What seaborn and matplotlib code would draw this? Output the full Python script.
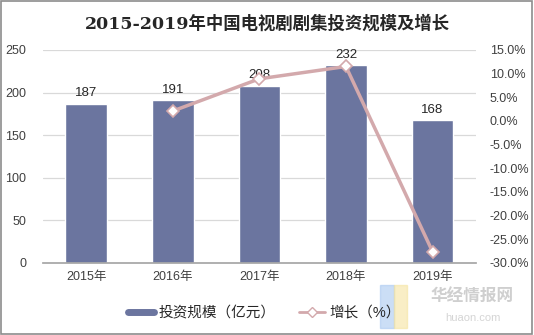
import matplotlib
matplotlib.use("Agg")
import matplotlib.pyplot as plt
import seaborn as sns
import pandas as pd
import numpy as np
from matplotlib.lines import Line2D
from matplotlib.patches import Rectangle

years = ["2015年", "2016年", "2017年", "2018年", "2019年"]
invest = [187, 191, 208, 232, 168]
growth = [np.nan, 2.1, 8.9, 11.5, -27.6]
left_ticks = [0, 50, 100, 150, 200, 250]
right_ticks = [-30, -25, -20, -15, -10, -5, 0, 5, 10, 15]

sns.set_theme(style="white")
plt.rcParams['font.family'] = ['Liberation Sans', 'Noto Sans CJK SC', 'DejaVu Sans']

BAR = "#6B759F"
LINE = "#D3A9AC"

df = pd.DataFrame({"year": years, "invest": invest, "growth": growth})
df["pos"] = np.arange(len(years))

fig = plt.figure(figsize=(5.34, 3.35), dpi=100)
ax = fig.add_axes([0.0805, 0.215, 0.8105, 0.636])

sns.barplot(data=df, x="year", y="invest", color=BAR, width=0.48, ax=ax,
            saturation=1, zorder=2)
ax.set_ylim(0, 250)
ax.set_yticks(left_ticks)
ax.set_xlim(-0.5, 4.5)
ax.yaxis.grid(True, color="#D9D9D9", linewidth=0.9, zorder=0)
ax.set_axisbelow(True)
for s in ["left", "right", "top"]:
    ax.spines[s].set_visible(False)
ax.spines["bottom"].set_color("#A6A6A6")
ax.set_xlabel("")
ax.set_ylabel("")
ax.tick_params(axis="both", length=0, labelsize=9, colors="#404040")
ax.tick_params(axis="x", pad=6)
ax.tick_params(axis="y", pad=12)

for i, v in enumerate(invest):
    ax.text(i, v + 5, str(v), ha="center", va="bottom", fontsize=9.5, color="#262626")

ax2 = ax.twinx()
gd = df.dropna()
sns.lineplot(data=gd, x="pos", y="growth", ax=ax2, color=LINE, linewidth=2.5,
             marker="D", markersize=6, markerfacecolor="white",
             markeredgecolor=LINE, markeredgewidth=1.2)
ax2.set_ylim(-30, 15)
ax2.set_yticks(right_ticks)
ax2.set_yticklabels([f"{t:.1f}%" for t in right_ticks])
ax2.set_xlim(-0.5, 4.5)
ax2.set_xlabel("")
ax2.set_ylabel("")
for s in ["left", "right", "top", "bottom"]:
    ax2.spines[s].set_visible(False)
ax2.tick_params(axis="y", length=0, labelsize=9, colors="#404040", pad=10)

fig.text(0.5, 0.93, "2015-2019年中国电视剧剧集投资规模及增长", ha="center", va="center",
         fontsize=12.5, fontweight="bold", color="#262626",
         family=['DejaVu Serif', 'Noto Sans CJK SC'])

handles = [Line2D([0], [0], color=BAR, linewidth=5),
           Line2D([0], [0], color=LINE, linewidth=2, marker="D", markersize=5,
                  markerfacecolor="white", markeredgecolor=LINE)]
fig.legend(handles, ["投资规模（亿元）", "增长（%）"], loc="center",
           bbox_to_anchor=(0.495, 0.065), ncol=2, frameon=False, fontsize=10.5,
           handlelength=1.8, columnspacing=1.6, handletextpad=0.3)

# watermark
fig.patches.append(Rectangle((0.712, 0.02), 0.025, 0.13, transform=fig.transFigure,
                             color="#A9C8F0", alpha=0.6))
fig.patches.append(Rectangle((0.737, 0.02), 0.025, 0.13, transform=fig.transFigure,
                             color="#F5E4A0", alpha=0.6))
fig.text(0.885, 0.115, "华经情报网", ha="center", va="center", fontsize=12,
         color="#CFCFCF", fontweight="bold")
fig.text(0.885, 0.05, "huaon.com", ha="center", va="center", fontsize=8,
         color="#D5D5D5")

fig.patches.append(Rectangle((0.002, 0.003), 0.995, 0.994, transform=fig.transFigure,
                             fill=False, edgecolor="#8C8C8C", linewidth=1.2))

fig.savefig("out.png", dpi=100)
